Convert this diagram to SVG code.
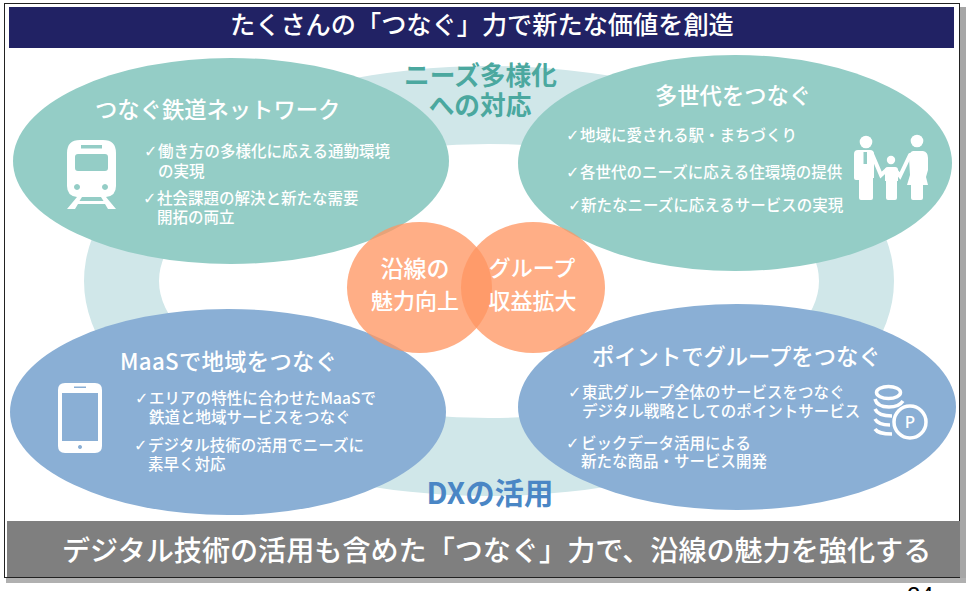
<svg xmlns="http://www.w3.org/2000/svg" width="970" height="591" viewBox="0 0 970 591">
<style>
text{font-family:"Noto Sans CJK JP","Noto Sans",sans-serif;font-weight:500;fill:#fff}
.h{font-size:22.300px}
.b{font-size:15.500px}
.c{font-size:16px;font-family:"DejaVu Sans",sans-serif;font-weight:400}
.m{font-size:22px;text-anchor:middle}
.t{fill:#94cdc6}
.u{fill:#8aafd5}
.o{fill:#ff9561;fill-opacity:.77}
.w{fill:#fff}
.arm{stroke:#fff;stroke-width:4;stroke-linecap:round;fill:none}
</style>
<rect width="970" height="591" fill="#fff"/>
<g id="frame">
<rect x="960" y="7" width="6" height="576" fill="#a6a6a6"/>
<rect x="6" y="578" width="960" height="5" fill="#b0b0b0"/>
<rect x="4.500" y="3.500" width="955" height="574" fill="#fff" stroke="#222" stroke-width="1"/>
</g>
<g id="ring">
<path fill="#d0e7e9" fill-rule="evenodd" d="M84 281a405 215 0 1 0 810 0a405 215 0 1 0-810 0ZM159 281a330 137 0 1 0 660 0a330 137 0 1 0-660 0Z"/>
</g>
<g id="title">
<rect x="9" y="7" width="945" height="41" fill="#212264"/>
<text x="230" y="34" font-size="25.200">たくさんの「つなぐ」力で新たな価値を創造</text>
</g>
<g id="label-needs">
<text x="480.500" y="85" font-size="25.700" text-anchor="middle" style="fill:#4ba89f;font-weight:700">ニーズ多様化</text>
<text x="480" y="115" font-size="25.700" text-anchor="middle" style="fill:#4ba89f;font-weight:700">への対応</text>
</g>
<g id="label-dx">
<text x="490" y="504" font-size="29.400" text-anchor="middle" style="fill:#4a86c5;font-weight:700">DXの活用</text>
</g>
<g id="node-rail">
<ellipse class="t" cx="231" cy="161" rx="218" ry="103"/>
<text class="h" x="95" y="118">つなぐ鉄道ネットワーク</text>
<text class="c" x="144" y="157">✓</text><text class="b" x="158" y="157">働き方の多様化に応える通勤環境</text>
<text class="b" x="158" y="177">の実現</text>
<text class="c" x="143" y="204">✓</text><text class="b" x="157" y="204">社会課題の解決と新たな需要</text>
<text class="b" x="157" y="223">開拓の両立</text>
<path class="w" fill-rule="evenodd" d="M80 140H103Q116 140 116 153V186Q116 196 106 197L116 209H108L105 204H78L75 209H67L77 197Q67 196 67 186V153Q67 140 80 140ZM81 145V148.500H102V145ZM78 154Q75 154 75 157V168Q75 171 78 171H105Q108 171 108 168V157Q108 154 105 154ZM77 184a3 3 0 1 0 0.010 0ZM105 184a3 3 0 1 0 0.010 0ZM82 197L79.500 201H103.500L101 197Z"/>
</g>
<g id="node-generations">
<ellipse class="t" cx="735" cy="163" rx="217" ry="108"/>
<text class="h" x="655" y="104">多世代をつなぐ</text>
<text class="c" x="566" y="141">✓</text><text class="b" x="580" y="141">地域に愛される駅・まちづくり</text>
<text class="c" x="566" y="178">✓</text><text class="b" x="580" y="178">各世代のニーズに応える住環境の提供</text>
<text class="c" x="568" y="211">✓</text><text class="b" x="581" y="211">新たなニーズに応えるサービスの実現</text>
<g class="w">
<circle cx="866" cy="142" r="6.300"/>
<circle cx="917" cy="141" r="6.300"/>
<circle cx="891" cy="160" r="4.200"/>
<path fill-rule="evenodd" d="M858 150H870Q874 150 874 154V178H873V198Q873 200 871 200H861Q859 200 859 198V180H856Q854 180 854 178V154Q854 150 858 150ZM863.500 152V164H867V152Z"/>
<path class="arm" d="M872 154L881 175L887 169.500"/>
<path class="arm" d="M910 155L900 176L895 169.500"/>
<path d="M888 167H895Q898 167 898 170V181H897V198Q897 200 895 200H888Q886 200 886 198V181H885V170Q885 167 888 167Z"/>
<path d="M913 151H923Q928 152 928 158V170L926 177L928 185H923V198Q923 200 921 200H913Q911 200 911 198V185H907L910 175L909 158Q909 152 913 151Z"/>
</g>
</g>
<g id="node-maas">
<ellipse class="u" cx="228" cy="412" rx="218" ry="103"/>
<text class="h" x="120" y="370" textLength="217" lengthAdjust="spacing">MaaSで地域をつなぐ</text>
<text class="c" x="135" y="404">✓</text><text class="b" x="149" y="404" textLength="227" lengthAdjust="spacing">エリアの特性に合わせたMaaSで</text>
<text class="b" x="149" y="423">鉄道と地域サービスをつなぐ</text>
<text class="c" x="134" y="451">✓</text><text class="b" x="148" y="451">デジタル技術の活用でニーズに</text>
<text class="b" x="148" y="470">素早く対応</text>
<path class="w" fill-rule="evenodd" d="M65 383H95Q102 383 102 390V446Q102 453 95 453H65Q58 453 58 446V390Q58 383 65 383ZM74 386.500V388H86V386.500ZM62 393V441H98V393ZM80 445a2 2 0 1 0 0.010 0Z"/>
</g>
<g id="node-points">
<ellipse class="u" cx="737" cy="407" rx="219" ry="103"/>
<text class="h" x="592" y="365">ポイントでグループをつなぐ</text>
<text class="c" x="568" y="398">✓</text><text class="b" x="582" y="398">東武グループ全体のサービスをつなぐ</text>
<text class="b" x="582" y="417">デジタル戦略としてのポイントサービス</text>
<text class="c" x="566" y="449">✓</text><text class="b" x="581" y="449">ビックデータ活用による</text>
<text class="b" x="581" y="467">新たな商品・サービス開発</text>
<ellipse cx="888.500" cy="392.500" rx="12" ry="6" fill="none" stroke="#fff" stroke-width="3.500"/>
<path fill="none" stroke="#fff" stroke-width="3.500" d="M875 399Q877 407 889 407Q899 407 903 401M875 409Q878 416 892 416M875 419Q878 425 890 425M875 429Q878 434 892 434"/>
<circle cx="910" cy="422" r="16" fill="#8aafd5" stroke="#fff" stroke-width="3.500"/>
<text x="910" y="428" font-size="17" text-anchor="middle" style="font-family:'Noto Sans',sans-serif">P</text>
</g>
<g id="node-appeal">
<ellipse class="o" cx="419.500" cy="287.500" rx="72.500" ry="65.500"/>
</g>
<g id="node-revenue">
<ellipse class="o" cx="533" cy="287.500" rx="72" ry="65.500"/>
</g>
<g id="center-labels">
<text class="m" x="415" y="277" style="font-size:23px">沿線の</text>
<text class="m" x="415" y="309">魅力向上</text>
<text class="m" x="532" y="276">グループ</text>
<text class="m" x="532.500" y="309">収益拡大</text>
</g>
<g id="footer">
<rect x="7" y="521" width="953" height="56" fill="#7f7f7f"/>
<text x="62" y="561" font-size="28.100">デジタル技術の活用も含めた「つなぐ」力で、沿線の魅力を強化する</text>
</g>
<g id="page-number">
<text x="907" y="604" font-size="24" style="fill:#000;font-family:'Liberation Sans',sans-serif">24</text>
</g>
</svg>
